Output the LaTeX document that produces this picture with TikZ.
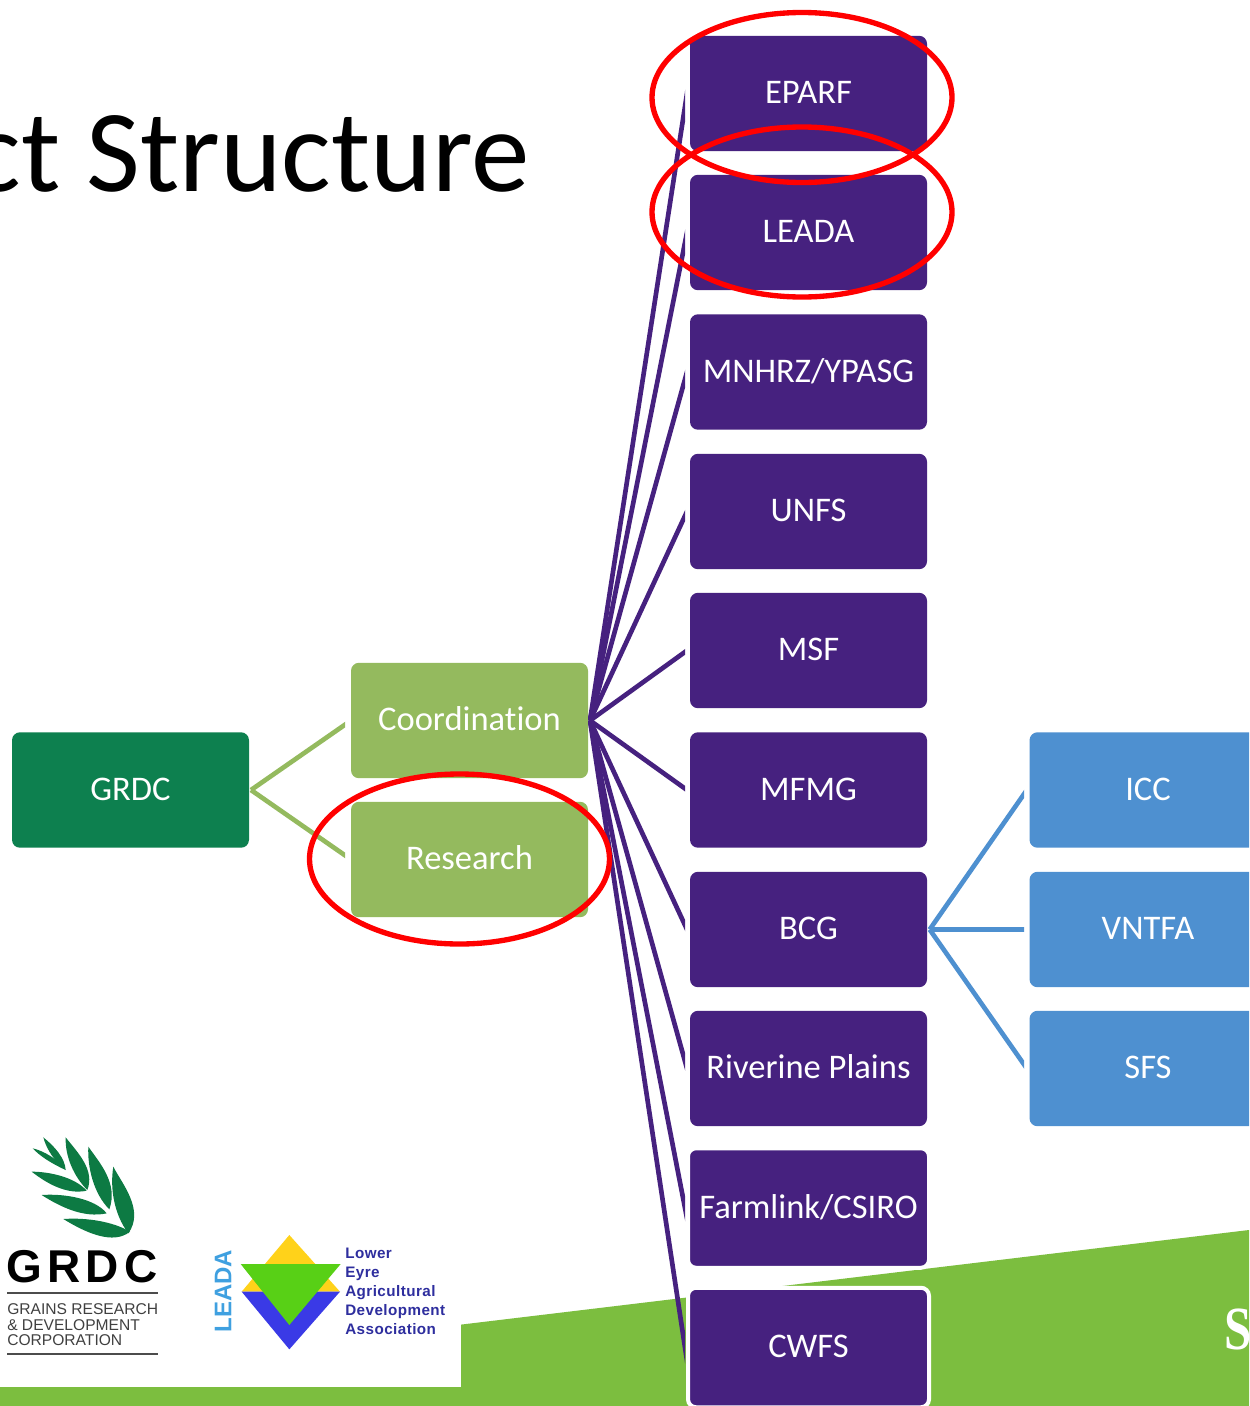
\documentclass[tikz,border=0pt]{standalone}
\usepackage{fontspec}
\setmainfont[Ligatures=NoCommon]{Carlito}
\newfontfamily\arialf{Liberation Sans}
\newfontfamily\arialbf[LetterSpace=11.6]{Liberation Sans Bold}
\newfontfamily\leadabf[LetterSpace=3]{Liberation Sans Bold}
\newfontfamily\serifrm{Liberation Serif}
\usetikzlibrary{shapes.geometric}
\definecolor{purplebox}{HTML}{46217F}
\definecolor{greenbox}{HTML}{94BA5E}
\definecolor{darkgreen}{HTML}{0D804F}
\definecolor{bluebox}{HTML}{4E90D0}
\definecolor{band}{HTML}{7CBE3F}
\definecolor{leaf}{HTML}{0D7A43}
\definecolor{ltyellow}{HTML}{FFD21A}
\definecolor{ltgreen}{HTML}{58D016}
\definecolor{ltblue}{HTML}{3A3AE6}
\definecolor{lttext}{HTML}{2E2E9E}
\definecolor{ltcyan}{HTML}{3FA0E0}
\tikzset{
  boxbase/.style={rectangle,rounded corners=6pt,inner sep=0pt,outer sep=0pt,
    minimum width=177.75pt,minimum height=86.6pt,text=white,
    text height=20pt,text depth=4.6pt,
    font=\fontsize{25.9}{30}\selectfont},
  purplenode/.style={boxbase,fill=purplebox},
  greennode/.style={boxbase,fill=greenbox},
  tealnode/.style={boxbase,fill=darkgreen},
  bluenode/.style={boxbase,fill=bluebox},
  haloed/.style={draw=white,line width=3pt,minimum width=180.75pt,minimum height=89.6pt},
  redring/.style={ellipse,draw=red,line width=4pt,inner sep=0pt,outer sep=0pt,
    minimum width=225pt,minimum height=127.5pt},
  linkline/.style={line width=3.5pt,shorten >=-12pt},
}
\begin{document}
\begin{tikzpicture}[x=0.75pt,y=-0.75pt]
\path[use as bounding box,clip] (0,0) rectangle (1249,1406);
\fill[white] (0,0) rectangle (1249,1406);
% green slide band
\fill[band] (461,1324.6) -- (1249,1230) -- (1249,1406) -- (0,1406) -- (0,1387) -- (461,1387) -- cycle;
% title
\node[anchor=base east,inner sep=0pt,font=\fontsize{87.8}{100}\selectfont] (title) at (530,191) {ct Structure};
\node[anchor=base west,inner sep=0pt,text=white,xscale=0.8,font=\serifrm\bfseries\fontsize{46}{50}\selectfont] (sletter) at (1224,1349) {S};
% boxes
\node[tealnode] (grdc) at (130.5,790) {GRDC};
\node[greennode] (coord) at (469.5,720.5) {Coordination};
\node[greennode] (research) at (469.5,859.5) {Research};
\node[purplenode] (eparf) at (808.5,93.5) {EPARF};
\node[purplenode] (leada) at (808.5,232.5) {LEADA};
\node[purplenode] (mnhrz) at (808.5,372) {MNHRZ/YPASG};
\node[purplenode] (unfs) at (808.5,511.5) {UNFS};
\node[purplenode] (msf) at (808.5,650.5) {MSF};
\node[purplenode] (mfmg) at (808.5,790) {MFMG};
\node[purplenode] (bcg) at (808.5,929.5) {BCG};
\node[purplenode] (riverine) at (808.5,1068.5) {Riverine Plains};
\node[purplenode,haloed] (farmlink) at (808.5,1208) {Farmlink/CSIRO};
\node[purplenode,haloed] (cwfs) at (808.5,1347.5) {CWFS};
\node[bluenode] (icc) at (1148,790) {ICC};
\node[bluenode] (vntfa) at (1148,929.5) {VNTFA};
\node[bluenode] (sfs) at (1148,1068.5) {SFS};
% connectors, cut short of the boxes as in the reference
\begin{scope}
  \clip (240,600) rectangle (345,900);
  \foreach \t in {coord,research}
    \draw[linkline,greenbox] ([xshift=1.5pt]grdc.east) -- (\t.west);
\end{scope}
\begin{scope}
  \clip (588,0) rectangle (685,1406);
  \foreach \t in {eparf,leada,mnhrz,unfs,msf,mfmg,bcg,riverine,farmlink,cwfs}
    \draw[linkline,purplebox] ([xshift=1.5pt]coord.east) -- ([xshift=-2.25pt]\t.west);
\end{scope}
\begin{scope}
  \clip (927,700) rectangle (1024,1100);
  \foreach \t in {icc,vntfa,sfs}
    \draw[linkline,bluebox] ([xshift=2pt]bcg.east) -- ([xshift=-2pt]\t.west);
\end{scope}
% GRDC logo
\begin{scope}[shift={(0,1120)},x=0.25pt,y=-0.25pt]
  \fill[leaf] (130,52) .. controls (165,80) and (195,115) .. (197,150) .. controls (165,125) and (140,90) .. cycle;
  \fill[leaf] (98,85) .. controls (130,92) and (175,118) .. (197,150) .. controls (150,128) and (120,108) .. cycle;
  \fill[leaf] (197,52) .. controls (235,100) and (285,150) .. (262,210) .. controls (222,170) and (195,110) .. cycle;
  \fill[leaf] (95,155) .. controls (150,155) and (225,172) .. (260,212) .. controls (200,225) and (140,190) .. cycle;
  \fill[leaf] (265,80) .. controls (300,130) and (355,190) .. (328,268) .. controls (280,220) and (262,140) .. cycle;
  \fill[leaf] (125,225) .. controls (190,220) and (285,235) .. (320,280) .. controls (250,295) and (180,260) .. cycle;
  \fill[leaf] (340,140) .. controls (365,190) and (435,270) .. (385,340) .. controls (340,280) and (330,200) .. cycle;
  \fill[leaf] (190,297) .. controls (260,292) and (340,305) .. (390,335) .. controls (340,375) and (260,340) .. cycle;
  % LEADA triangles
  \fill[ltyellow] (868,345) -- (1020,515) -- (725,515) -- cycle;
  \fill[ltblue] (725,515) -- (1020,515) -- (868,688) -- cycle;
  \fill[ltgreen] (722,432) -- (1022,432) -- (868,615) -- cycle;
\end{scope}
\node[anchor=base west,inner sep=0pt,font=\arialbf\fontsize{34.5}{36}\selectfont,text=black] (grdcmark) at (6,1282.5) {GRDC};
\draw[black!70,line width=1.2pt] (7,1293) -- (158,1293);
\draw[black!70,line width=1.2pt] (7,1354) -- (158,1354);
\node[anchor=north west,inner sep=0pt,align=left,text=black!75,font=\arialf\fontsize{11.7}{11.9}\selectfont] (grdcname) at (7,1303)
  {GRAINS RESEARCH\\\& DEVELOPMENT\\CORPORATION};
\node[rotate=90,inner sep=0pt,text=ltcyan,font=\fontsize{18}{20}\arialf\bfseries\selectfont] (leadamark) at (223,1291) {LEADA};
\node[anchor=north west,inner sep=0pt,align=left,text=lttext,font=\leadabf\fontsize{11.4}{14.25}\selectfont] (leadaname) at (345,1248)
  {Lower\\Eyre\\Agricultural\\Development\\Association};
% red rings
\node[redring] (ringa) at (802,97.5) {};
\node[redring] (ringb) at (802,212) {};
\node[redring] (ringc) at (459.5,859) {};
\end{tikzpicture}
\end{document}
